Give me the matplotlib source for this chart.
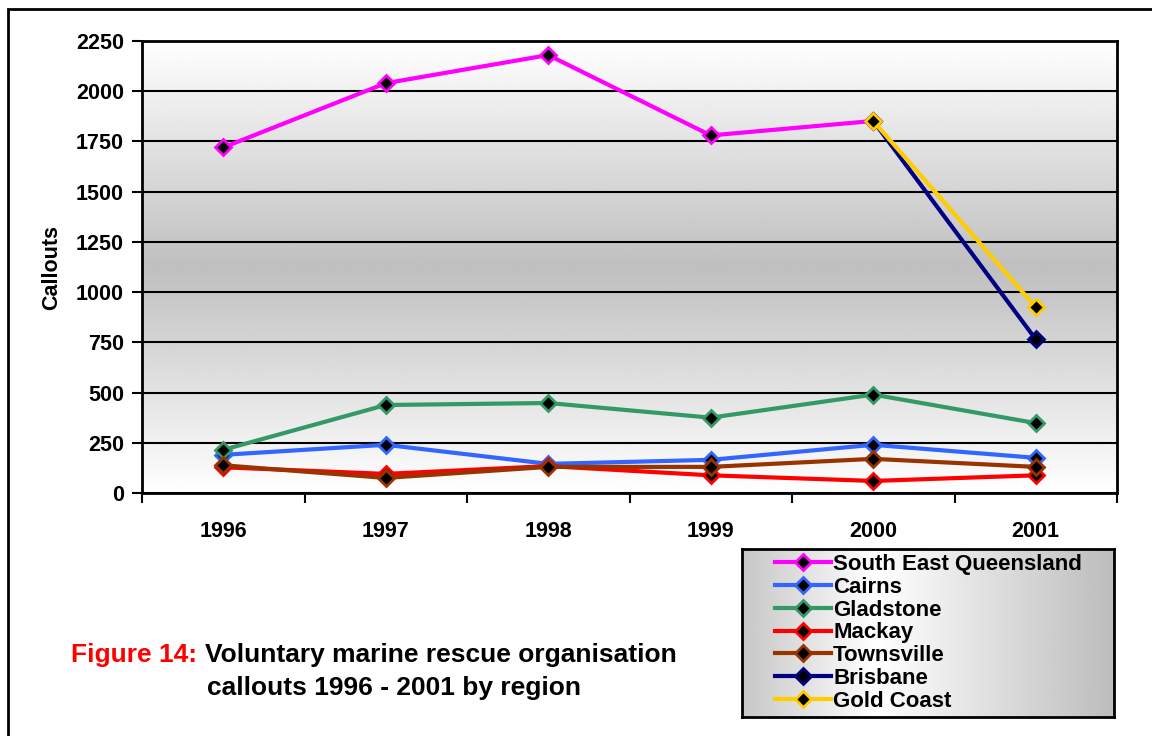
import matplotlib
matplotlib.use("Agg")
import matplotlib.pyplot as plt
import numpy as np
from matplotlib.patches import Rectangle

plt.rcParams['font.family'] = ['Liberation Sans', 'DejaVu Sans']
plt.rcParams['font.weight'] = 'bold'

# data
years = ['1996', '1997', '1998', '1999', '2000', '2001']
seq = [1720, 2040, 2180, 1780, 1852, None]
cairns = [190, 240, 145, 165, 240, 175]
gladstone = [215, 438, 448, 375, 490, 348]
mackay = [128, 95, 134, 88, 60, 88]
townsville = [138, 75, 130, 130, 170, 130]
brisbane = [None, None, None, None, 1852, 765]
gold_coast = [None, None, None, None, 1852, 925]

names = ['South East Queensland', 'Cairns', 'Gladstone', 'Mackay',
         'Townsville', 'Brisbane', 'Gold Coast']
colors = ['#ff00ff', '#3366ff', '#339966', '#ff0000', '#993300', '#000080', '#ffcc00']
series = [seq, cairns, gladstone, mackay, townsville, brisbane, gold_coast]

fig = plt.figure(figsize=(11.52, 7.36), dpi=100)
fig.set_facecolor('white')

# outer frame
fig.patches.append(Rectangle((8 / 1152, -0.05), 1.2, 1 - 9 / 736 + 0.05,
                             transform=fig.transFigure, fill=False,
                             edgecolor='black', linewidth=2))

ax = fig.add_axes([142 / 1152, 1 - 493 / 736, 975 / 1152, 452 / 736])

# vertical gradient behind the plot: white - grey - white
t = np.linspace(0, 1, 256)
g = 1.0 - 0.25 * (1 - np.abs(2 * t - 1))
ax.imshow(g[:, None], cmap='gray', vmin=0, vmax=1, aspect='auto',
          extent=(-0.5, 5.5, 0, 2250), zorder=0, interpolation='bilinear')

x = np.arange(len(years))
handles = []
for name, col, vals in zip(names, colors, series):
    y = np.array([np.nan if v is None else v for v in vals], dtype=float)
    h, = ax.plot(x, y, color=col, linewidth=3, marker='D', markersize=8,
                 markerfacecolor='black', markeredgecolor=col,
                 markeredgewidth=2, zorder=3, label=name)
    handles.append(h)

ax.set_xlim(-0.5, 5.5)
ax.set_ylim(0, 2250)
ax.set_yticks(np.arange(0, 2251, 250))
ax.yaxis.grid(True, color='black', linewidth=1.5)
ax.set_axisbelow(False)
for gl in ax.get_ygridlines():
    gl.set_zorder(1)

ax.set_xticks(np.arange(-0.5, 5.6, 1))
ax.set_xticklabels([])
ax.set_xticks(x, minor=True)
ax.set_xticklabels(years, minor=True)
ax.tick_params(axis='x', which='major', length=7, width=1.5, direction='out')
ax.tick_params(axis='x', which='minor', length=0, pad=20, labelsize=15.5)
ax.tick_params(axis='y', length=7, width=1.5, labelsize=15.5, pad=6)
for lab in ax.get_xticklabels(minor=True) + ax.get_yticklabels():
    lab.set_fontweight('bold')
for s in ax.spines.values():
    s.set_linewidth(2)
ax.set_ylabel('Callouts', fontsize=15.5, fontweight='bold', labelpad=10)

# legend box with horizontal gradient
lax = fig.add_axes([742 / 1152, 1 - 717 / 736, 372 / 1152, 168 / 736])
u = np.linspace(0, 1, 256)
lg = np.interp(u, [0, 0.36, 1], [0.78, 1.0, 0.74])
lax.imshow(lg[None, :], cmap='gray', vmin=0, vmax=1, aspect='auto',
           extent=(0, 1, 0, 1), interpolation='bilinear')
lax.set_xticks([])
lax.set_yticks([])
for s in lax.spines.values():
    s.set_linewidth(2)

fig.legend(handles=handles, loc='upper left',
           bbox_to_anchor=(775 / 1152, 1 - 554 / 736),
           frameon=False, handlelength=2.5, handletextpad=0.12,
           labelspacing=0.08, borderaxespad=0, borderpad=0,
           prop={'weight': 'bold', 'size': 16})

# caption
fig.text(71 / 1152, 1 - 655 / 736, 'Figure 14:', color='red', fontsize=19,
         fontweight='bold', va='center', ha='left')
fig.text(205 / 1152, 1 - 655 / 736, 'Voluntary marine rescue organisation',
         color='black', fontsize=19, fontweight='bold', va='center', ha='left')
fig.text(394 / 1152, 1 - 688 / 736, 'callouts 1996 - 2001 by region',
         color='black', fontsize=19, fontweight='bold', va='center', ha='center')

fig.savefig('out.png', dpi=100)
